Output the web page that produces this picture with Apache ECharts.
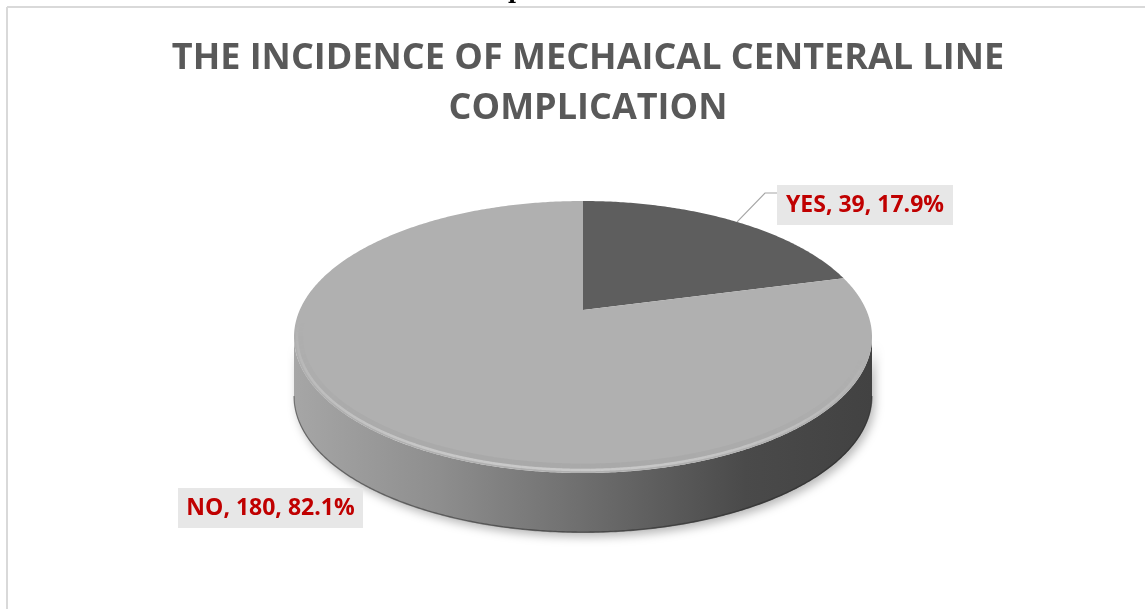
<!DOCTYPE html>
<html><head><meta charset="utf-8">
<script src="https://cdn.jsdelivr.net/npm/echarts@6/dist/echarts.min.js"></script>
<style>html,body{margin:0;padding:0;background:#fff}#c{width:1145px;height:609px}</style>
</head><body><div id="c"></div>
<script>
// ---- data ----
const categories = ['YES', 'NO'];
const counts = [39, 180];
const percents = [17.9, 82.1];
const titleLines = ['THE INCIDENCE OF MECHAICAL CENTERAL LINE', 'COMPLICATION'];

// ---- layout / style ----
const FONT = '"Open Sans", "Liberation Sans", sans-serif';
const PIE = {cx: 583, cy: 337, rx: 289, ry: 136, vx: 583, vy: 310, depth: 60};
const TOP_COLORS = ['#5e5e5e', '#b0b0b0'];
const LABEL_BOX = [
  {x: 777, y: 185, w: 176, h: 40, leader: true},
  {x: 178, y: 488, w: 185, h: 40, leader: false}
];

const totalPct = percents.reduce((a, b) => a + b, 0);
const startFrac = [];
(function () { let acc = 0; percents.forEach(p => { startFrac.push(acc / totalPct); acc += p; }); })();

function ell(t, dy, dr) {
  dr = dr || 0;
  return [PIE.cx + (PIE.rx - dr) * Math.sin(t), PIE.cy - (PIE.ry - dr) * Math.cos(t) + (dy || 0)];
}
function arcPts(t0, t1, dy, dr) {
  const n = Math.max(2, Math.ceil(Math.abs(t1 - t0) / (Math.PI / 360)));
  const pts = [];
  for (let i = 0; i <= n; i++) pts.push(ell(t0 + (t1 - t0) * i / n, dy, dr));
  return pts;
}

const sideGrad = {
  type: 'linear', x: PIE.cx - PIE.rx, y: 0, x2: PIE.cx + PIE.rx, y2: 0, global: true,
  colorStops: [
    {offset: 0, color: '#a6a6a6'},
    {offset: 0.25, color: '#8e8e8e'},
    {offset: 0.5, color: '#6e6e6e'},
    {offset: 0.78, color: '#4a4a4a'},
    {offset: 1, color: '#424242'}
  ]
};

const chart = echarts.init(document.getElementById('c'), null, {renderer: 'canvas'});

chart.setOption({
  backgroundColor: '#ffffff',
  animation: false,
  title: {
    text: titleLines.join('\n'),
    left: 583,
    textAlign: 'center',
    top: 29,
    textStyle: {fontFamily: FONT, fontWeight: 'bold', fontSize: 36, color: '#595959', lineHeight: 50}
  },
  graphic: [
    {type: 'line', shape: {x1: 7, y1: 7, x2: 1145, y2: 7}, style: {stroke: '#d9d9d9', lineWidth: 2}},
    {type: 'line', shape: {x1: 7, y1: 7, x2: 7, y2: 609}, style: {stroke: '#d9d9d9', lineWidth: 2}},
    {type: 'text', x: 508, y: -19, style: {text: 'p', fill: '#000', font: 'bold 22px "DejaVu Serif", serif'}}
  ],
  series: [{
    type: 'custom',
    coordinateSystem: 'none',
    data: categories.map((c, i) => ({name: c, value: [i, percents[i], counts[i]]})),
    renderItem: function (params, api) {
      const i = params.dataIndex;
      const pct = api.value(1);
      const cnt = api.value(2);
      const t0 = startFrac[i] * 2 * Math.PI;
      const t1 = t0 + pct / totalPct * 2 * Math.PI;
      const mid = (t0 + t1) / 2;
      const children = [];
      const s0 = Math.max(t0, Math.PI / 2), s1 = Math.min(t1, 3 * Math.PI / 2);
      if (s1 > s0) {
        const top = arcPts(s0, s1, 0);
        const bot = arcPts(s1, s0, PIE.depth);
        children.push({type: 'polygon', z2: 1, shape: {points: top.concat(bot)},
          style: {fill: sideGrad, shadowBlur: 10, shadowColor: 'rgba(0,0,0,0.28)', shadowOffsetX: 3, shadowOffsetY: 4}});
        children.push({type: 'polyline', z2: 2, shape: {points: arcPts(s0, s1, PIE.depth - 1)},
          style: {stroke: 'rgba(40,40,40,0.5)', lineWidth: 1.2, fill: null}});
      }
      children.push({type: 'polygon', z2: 3,
        shape: {points: [[PIE.vx, PIE.vy]].concat(arcPts(t0, t1, 0))},
        style: {fill: TOP_COLORS[i]}});
      // soft rim bevel highlight, tapered toward the back
      const step = Math.PI / 90;
      for (let a = t0; a < t1 - 1e-6; a += step) {
        const b = Math.min(t1, a + step);
        const m = (a + b) / 2;
        const w = Math.max(0, -Math.cos(m - 0.15));
        if (w <= 0.02) continue;
        children.push({type: 'polyline', z2: 4, shape: {points: arcPts(a, b, 0, 3)},
          style: {stroke: 'rgba(255,255,255,' + (0.32 * w).toFixed(3) + ')', lineWidth: 2.5, fill: null}});
        children.push({type: 'polyline', z2: 4, shape: {points: arcPts(a, b, 0, 7)},
          style: {stroke: 'rgba(0,0,0,' + (0.035 * w).toFixed(3) + ')', lineWidth: 5, fill: null}});
      }
      const L = LABEL_BOX[i];
      if (L.leader) {
        const p = ell(mid, 0);
        children.push({type: 'polyline', z2: 5,
          shape: {points: [p, [L.x - 12, L.y + 8], [L.x, L.y + 8]]},
          style: {stroke: '#a6a6a6', lineWidth: 1.2, fill: null}});
      }
      children.push({type: 'rect', z2: 6, shape: {x: L.x, y: L.y, width: L.w, height: L.h},
        style: {fill: '#e7e7e7'}});
      children.push({type: 'text', z2: 7, x: L.x + L.w / 2, y: L.y + L.h / 2,
        style: {text: categories[i] + ', ' + cnt + ', ' + pct.toFixed(1) + '%',
          fill: '#c00000', font: 'bold 23px ' + FONT, align: 'center', verticalAlign: 'middle'}});
      return {type: 'group', children: children};
    }
  }]
});
</script>
</body></html>
